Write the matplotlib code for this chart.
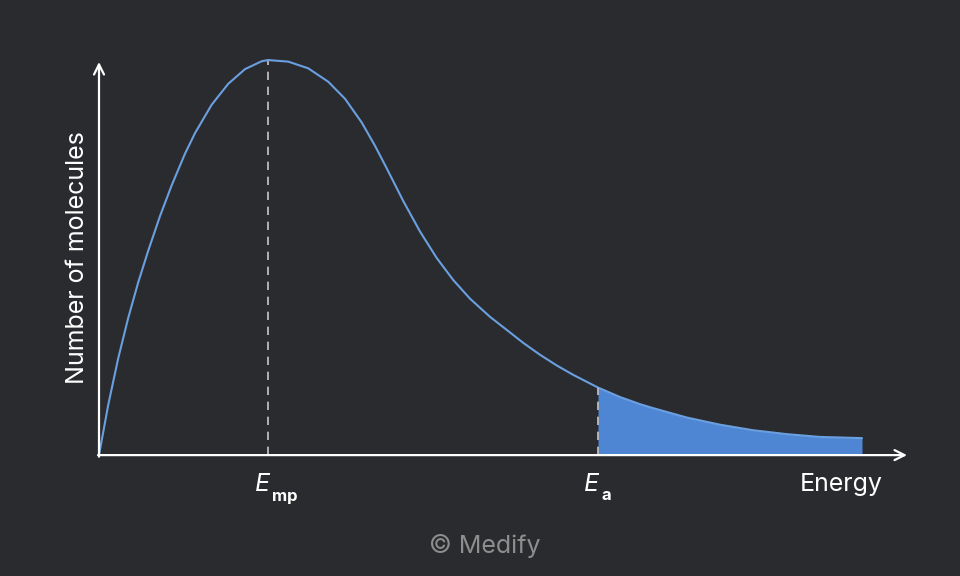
import numpy as np
import matplotlib
matplotlib.use("Agg")
import matplotlib.pyplot as plt

plt.rcParams['font.family'] = ['Inter', 'DejaVu Sans']

# energy (arbitrary units) and relative number of molecules
energy = [0.0, 0.093, 0.193, 0.293, 0.393, 0.493, 0.61, 0.727, 0.86, 0.96,
          1.127, 1.293, 1.46, 1.627, 1.69, 1.893, 2.093, 2.293, 2.46, 2.627,
          2.76, 2.877, 3.043, 3.21, 3.377, 3.543, 3.71, 3.91, 4.077, 4.243,
          4.41, 4.577, 4.743, 4.99, 5.21, 5.41, 5.54, 5.88, 6.21, 6.54,
          6.88, 7.21, 7.63]
molecules = [0.0, 0.128, 0.246, 0.348, 0.438, 0.518, 0.605, 0.683, 0.763, 0.815,
             0.887, 0.94, 0.977, 0.997, 1.0, 0.996, 0.979, 0.945, 0.902, 0.842,
             0.783, 0.726, 0.643, 0.566, 0.499, 0.443, 0.396, 0.35, 0.317, 0.284,
             0.254, 0.227, 0.203, 0.171, 0.147, 0.129, 0.119, 0.095, 0.077, 0.063,
             0.053, 0.046, 0.043]
e_mp = 1.69
e_a = 4.99

bg = '#2a2b2e'
line_col = '#6a9fe0'
fill_col = '#4f86d4'

fig = plt.figure(figsize=(9.6, 5.76), dpi=100, facecolor=bg)
ax = fig.add_axes([0, 0, 1, 1])
ax.set_facecolor(bg)
ax.set_xlim(-0.99, 8.61)
ax.set_ylim(-0.306, 1.152)
ax.axis('off')

E = np.array(energy)
M = np.array(molecules)
tail = E >= e_a
ax.fill_between(E[tail], 0, M[tail], color=fill_col, lw=0, zorder=2)
ax.plot(E, M, color=line_col, lw=1.5, zorder=3, solid_capstyle='round',
        solid_joinstyle='round')

# dashed markers
ax.plot([e_mp, e_mp], [0, 1.0], color='#c8c8c8', lw=1.2, dashes=(5, 4), zorder=1)
ax.plot([e_a, e_a], [0, M[E == e_a][0]], color='#c8c8c8', lw=1.2, dashes=(5, 4), zorder=4)

# axes with arrows
arrow = dict(arrowstyle='->', color='white', lw=1.6, mutation_scale=18, shrinkA=0, shrinkB=0)
ax.annotate('', xy=(8.08, 0), xytext=(-0.01, 0), arrowprops=arrow, zorder=5)
ax.annotate('', xy=(0, 0.995), xytext=(0, -0.004), arrowprops=arrow, zorder=5)

# labels
ax.text(e_mp - 0.13, -0.091, 'E', color='white', fontsize=18, style='italic',
        ha='left', va='baseline')
ax.text(e_mp + 0.04, -0.116, 'mp', color='white', fontsize=12, fontweight='bold',
        ha='left', va='baseline')
ax.text(e_a - 0.14, -0.091, 'E', color='white', fontsize=18, style='italic',
        ha='left', va='baseline')
ax.text(e_a + 0.04, -0.114, 'a', color='white', fontsize=12, fontweight='bold',
        ha='left', va='baseline')
ax.text(7.01, -0.091, 'Energy', color='white', fontsize=18, ha='left', va='baseline')

fig.text(78 / 960, 1 - 258 / 576, 'Number of molecules', color='white', fontsize=18,
         rotation=90, ha='center', va='center')
fig.text(485 / 960, 1 - 553 / 576, '© Medify', color='#8e8e8e', fontsize=18,
         ha='center', va='baseline')

fig.savefig('out.png', dpi=100, facecolor=bg)
